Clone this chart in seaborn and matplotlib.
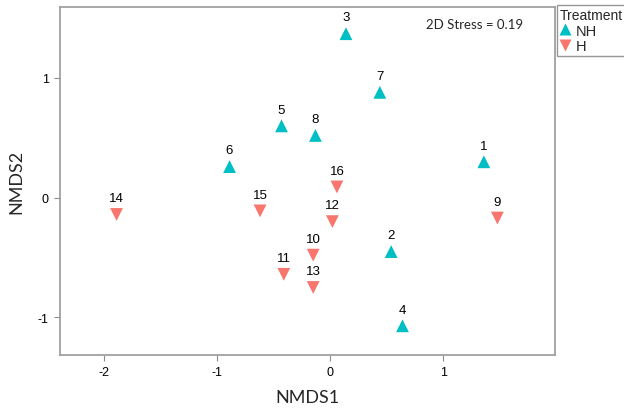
import matplotlib
matplotlib.use('Agg')
import matplotlib.pyplot as plt
import seaborn as sns
import pandas as pd

# NMDS site scores
sites = ['1', '2', '3', '4', '5', '6', '7', '8',
         '9', '10', '11', '12', '13', '14', '15', '16']
nmds1 = [1.36, 0.54, 0.14, 0.64, -0.43, -0.89, 0.44, -0.13,
         1.48, -0.15, -0.41, 0.02, -0.15, -1.89, -0.62, 0.06]
nmds2 = [0.30, -0.45, 1.37, -1.07, 0.60, 0.26, 0.88, 0.52,
         -0.17, -0.48, -0.64, -0.20, -0.75, -0.14, -0.11, 0.09]
treatment = ['NH'] * 8 + ['H'] * 8
stress = 0.19

x_ticks = [-2, -1, 0, 1]
y_ticks = [-1, 0, 1]

df = pd.DataFrame({'site': sites, 'NMDS1': nmds1, 'NMDS2': nmds2, 'Treatment': treatment})

sns.set_style('white')
plt.rcParams['font.family'] = ['Liberation Sans', 'DejaVu Sans']
plt.rcParams['axes.unicode_minus'] = False

fig = plt.figure(figsize=(6.24, 4.10), dpi=100)
ax = fig.add_axes([0.0962, 0.1317, 0.7933, 0.8488])

palette = {'NH': '#00BFC4', 'H': '#F8766D'}
markers = {'NH': '^', 'H': 'v'}
sns.scatterplot(data=df, x='NMDS1', y='NMDS2', hue='Treatment', style='Treatment',
                palette=palette, markers=markers, hue_order=['NH', 'H'],
                style_order=['NH', 'H'], s=85, edgecolor='none', ax=ax)

for s, xv, yv in zip(sites, nmds1, nmds2):
    ax.annotate(s, (xv, yv), xytext=(0, 9.5), textcoords='offset points',
                ha='center', va='baseline', fontsize=9.5, color='black',
                family='Liberation Sans')

ax.set_xlim(-2.39, 1.99)
ax.set_ylim(-1.314, 1.593)
ax.set_xticks(x_ticks)
ax.set_yticks(y_ticks)
ax.tick_params(axis='both', direction='out', length=4, width=0.8, color='#8c8c8c',
               labelsize=9, labelcolor='black', pad=4, bottom=True, left=True)
for lab in ax.get_xticklabels() + ax.get_yticklabels():
    lab.set_family('Liberation Sans')
for sp in ax.spines.values():
    sp.set_color('#a0a0a0')
    sp.set_linewidth(1.3)

ax.set_xlabel('NMDS1', fontsize=13, family='Lato', labelpad=8)
ax.set_ylabel('NMDS2', fontsize=13, family='Lato', labelpad=10)

ax.text(0.838, 0.951, f'2D Stress = {stress}', transform=ax.transAxes,
        ha='center', va='center', fontsize=9.5, family='Lato')

handles, labels = ax.get_legend_handles_labels()
ax.get_legend().remove()
leg = fig.legend(handles, labels, title='Treatment', loc='upper left',
                 bbox_to_anchor=(0.892, 0.985), bbox_transform=fig.transFigure,
                 frameon=True, fancybox=False, edgecolor='#7f7f7f', fontsize=10.5,
                 title_fontsize=10, handlelength=0.8, handletextpad=0.3,
                 borderpad=0.2, labelspacing=0.1, borderaxespad=0, markerscale=0.9)
leg._legend_box.align = 'left'
leg.get_frame().set_linewidth(1.0)
for t in leg.get_texts():
    t.set_family('Liberation Sans')
leg.get_title().set_family('Liberation Sans')

fig.savefig('out.png', dpi=100)
